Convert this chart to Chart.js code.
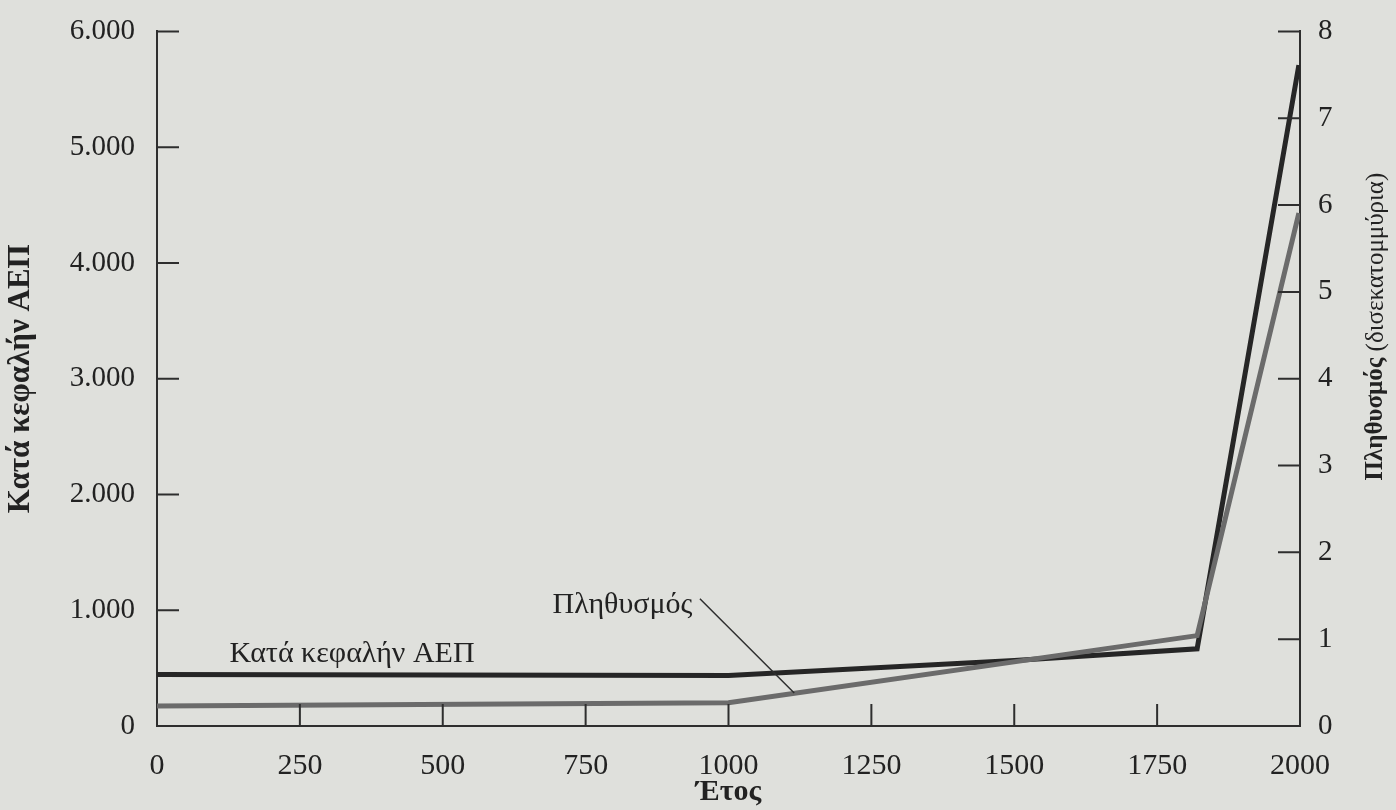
<!DOCTYPE html>
<html>
<head>
<meta charset="utf-8">
<script src="https://cdn.jsdelivr.net/npm/chart.js@4.4.1/dist/chart.umd.min.js"></script>
<style>
  html, body { margin: 0; padding: 0; background: #dfe0dc; }
  #wrap { width: 1396px; height: 810px; }
</style>
</head>
<body>
<div id="wrap"><canvas id="chart"></canvas></div>
<script>
// DATA
const gdpYears = [0, 1000, 1500, 1820, 1998];
const gdpPerCapita = [445, 436, 566, 667, 5709];   // left axis
const popYears = [0, 1000, 1820, 1998];
const population = [0.231, 0.268, 1.041, 5.908];   // right axis, billions
const xTickValues = [0, 250, 500, 750, 1000, 1250, 1500, 1750, 2000];
const gdpTickValues = [0, 1000, 2000, 3000, 4000, 5000, 6000];
const popTickValues = [0, 1, 2, 3, 4, 5, 6, 7, 8];

const SERIF = '"Liberation Serif", "DejaVu Serif", serif';
const INK = '#2e2e2e';

const toPoints = (xs, ys) => xs.map((x, i) => ({ x: x, y: ys[i] }));

// inward tick marks, text labels, right title
const decorations = {
  id: 'decorations',
  afterDatasetsDraw(chart) {
    const ctx = chart.ctx;
    const { left, right, top, bottom } = chart.chartArea;
    const sx = chart.scales.x, sl = chart.scales.yGdp, sr = chart.scales.yPop;
    const len = 22;
    ctx.save();
    ctx.strokeStyle = INK;
    ctx.lineWidth = 2;
    ctx.beginPath();
    xTickValues.slice(1, -1).forEach(v => {
      const px = sx.getPixelForValue(v);
      ctx.moveTo(px, bottom); ctx.lineTo(px, bottom - len);
    });
    gdpTickValues.slice(1).forEach(v => {
      const py = sl.getPixelForValue(v);
      ctx.moveTo(left, py); ctx.lineTo(left + len, py);
    });
    popTickValues.slice(1).forEach(v => {
      const py = sr.getPixelForValue(v);
      ctx.moveTo(right, py); ctx.lineTo(right - len, py);
    });
    ctx.stroke();

    // series labels
    ctx.fillStyle = '#222';
    ctx.font = '30px ' + SERIF;
    ctx.textBaseline = 'middle';
    ctx.textAlign = 'left';
    ctx.fillText('Κατά κεφαλήν ΑΕΠ', sx.getPixelForValue(127), sl.getPixelForValue(620));
    ctx.fillText('Πληθυσμός', sx.getPixelForValue(692), sl.getPixelForValue(1040));
    // leader line
    ctx.lineWidth = 1.5;
    ctx.beginPath();
    ctx.moveTo(sx.getPixelForValue(950), sl.getPixelForValue(1100));
    ctx.lineTo(sx.getPixelForValue(1115), sr.getPixelForValue(0.38));
    ctx.stroke();

    // right axis title, mixed weight
    const bold = 'Πληθυσμός ';
    const reg = '(δισεκατομμύρια)';
    const fb = 'bold 25px ' + SERIF, fr = '25px ' + SERIF;
    ctx.font = fb; const wb = ctx.measureText(bold).width;
    ctx.font = fr; const wr = ctx.measureText(reg).width;
    ctx.translate(1376, sr.getPixelForValue(4.6));
    ctx.rotate(-Math.PI / 2);
    ctx.textAlign = 'left';
    ctx.textBaseline = 'middle';
    const start = -(wb + wr) / 2;
    ctx.font = fb; ctx.fillText(bold, start, 0);
    ctx.font = fr; ctx.fillText(reg, start + wb, 0);
    ctx.restore();
  }
};

const axisBorder = { display: true, color: INK, width: 2 };

new Chart(document.getElementById('chart'), {
  type: 'line',
  data: {
    datasets: [
      {
        label: 'Πληθυσμός',
        data: toPoints(popYears, population),
        yAxisID: 'yPop',
        borderColor: '#6b6b6b',
        borderWidth: 5,
        pointRadius: 0,
        tension: 0
      },
      {
        label: 'Κατά κεφαλήν ΑΕΠ',
        data: toPoints(gdpYears, gdpPerCapita),
        yAxisID: 'yGdp',
        borderColor: '#262626',
        borderWidth: 5,
        pointRadius: 0,
        tension: 0
      }
    ]
  },
  plugins: [decorations],
  options: {
    responsive: true,
    maintainAspectRatio: false,
    animation: false,
    layout: { padding: { top: 19, left: 0, right: 0, bottom: 0 } },
    plugins: {
      legend: { display: false },
      tooltip: { enabled: false }
    },
    scales: {
      x: {
        type: 'linear',
        min: 0,
        max: 2000,
        afterBuildTicks: s => { s.ticks = xTickValues.map(v => ({ value: v })); },
        afterFit: s => { s.height = 84; },
        grid: { display: false },
        border: axisBorder,
        ticks: {
          color: '#222',
          font: { family: SERIF, size: 30 },
          padding: 14,
          maxRotation: 0,
          callback: v => String(v)
        },
        title: {
          display: true,
          text: 'Έτος',
          color: '#222',
          font: { family: SERIF, size: 30, weight: 'bold' },
          padding: { top: 4, bottom: 0 }
        }
      },
      yGdp: {
        position: 'left',
        min: 0,
        max: 6000,
        afterBuildTicks: s => { s.ticks = gdpTickValues.map(v => ({ value: v })); },
        afterFit: s => { s.width = 157; },
        grid: { display: false },
        border: axisBorder,
        ticks: {
          color: '#222',
          font: { family: SERIF, size: 29 },
          padding: 14,
          callback: v => v.toLocaleString('de-DE')
        },
        title: {
          display: true,
          text: 'Κατά κεφαλήν ΑΕΠ',
          color: '#222',
          font: { family: SERIF, size: 31, weight: 'bold' },
          padding: { top: 2, bottom: 0 }
        }
      },
      yPop: {
        position: 'right',
        min: 0,
        max: 8,
        afterBuildTicks: s => { s.ticks = popTickValues.map(v => ({ value: v })); },
        afterFit: s => { s.width = 96; },
        grid: { display: false },
        border: axisBorder,
        ticks: {
          color: '#222',
          font: { family: SERIF, size: 29 },
          padding: 10,
          callback: v => String(v)
        }
      }
    }
  }
});
</script>
</body>
</html>
